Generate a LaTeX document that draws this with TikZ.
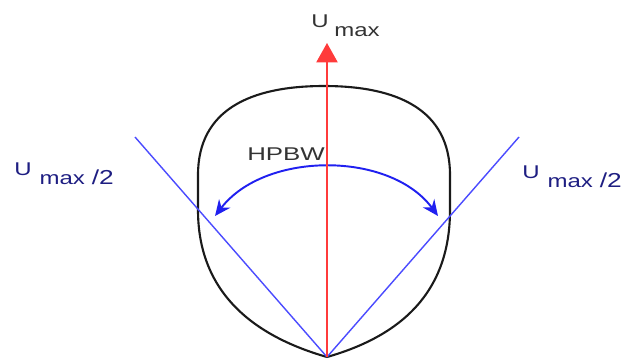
\documentclass[tikz,border=0pt]{standalone}
\usepackage{fontspec}
\setmainfont{Liberation Sans}
\usepackage{tikz}
\usetikzlibrary{arrows.meta}
\definecolor{lobenoir}{HTML}{1A1A1A}
\definecolor{axerouge}{HTML}{FF3B3B}
\definecolor{lignebleu}{HTML}{4B4BFF}
\definecolor{arcbleu}{HTML}{2020F0}
\definecolor{labelbleu}{HTML}{1E1E82}
\definecolor{labelgris}{HTML}{333333}

\begin{document}
\begin{tikzpicture}[x=0.02cm, y=0.02cm, every node/.style={font=\fontsize{10.5}{12}\selectfont, inner sep=0pt}]
  \useasboundingbox (0,0) rectangle (625,360);
  % points
  \coordinate (o) at (327,3);
  \coordinate (haut) at (327,317);
  \coordinate (gauche) at (135,223);
  \coordinate (droite) at (519,223);
  \coordinate (hg) at (215,144);
  \coordinate (hd) at (438,144);
  % lobe
  \draw[lobenoir, line width=1.2pt] (o) .. controls (250,25) and (198,70) .. (198,150) -- (198,185)
    .. controls (198,250) and (250,274) .. (324,274) .. controls (398,274) and (450,250) .. (450,185)
    -- (450,150) .. controls (450,70) and (404,25) .. (o);
  % demi-puissance
  \draw[lignebleu, line width=0.8pt] (o) -- (gauche);
  \draw[lignebleu, line width=0.8pt] (o) -- (droite);
  % HPBW
  \draw[arcbleu, line width=1.1pt, {Stealth[length=9pt,width=8pt]}-{Stealth[length=9pt,width=8pt]}]
    (hg) .. controls (265,209) and (390,209) .. (hd);
  % axe
  \draw[axerouge, line width=1.1pt, -{Triangle[length=11pt,width=12pt]}] (o) -- (haut);
  % textes
  \node[labelgris, anchor=base west] (umax) at (311,333) {\scalebox{1.3}[1]{U\hspace{2.5pt}\raisebox{-5.5pt}{max}}};
  \node[labelgris, anchor=base] (hpbw) at (286,200) {\scalebox{1.4}[1]{HPBW}};
  \node[labelbleu, anchor=base west] (ug) at (14,185) {\scalebox{1.3}[1]{U\hspace{3.5pt}\raisebox{-5.5pt}{max\hspace{3pt}{\fontsize{11.5}{12}\selectfont/2}}}};
  \node[labelbleu, anchor=base west] (ud) at (522,182) {\scalebox{1.3}[1]{U\hspace{3.5pt}\raisebox{-5.5pt}{max\hspace{3pt}{\fontsize{11.5}{12}\selectfont/2}}}};
\end{tikzpicture}
\end{document}
